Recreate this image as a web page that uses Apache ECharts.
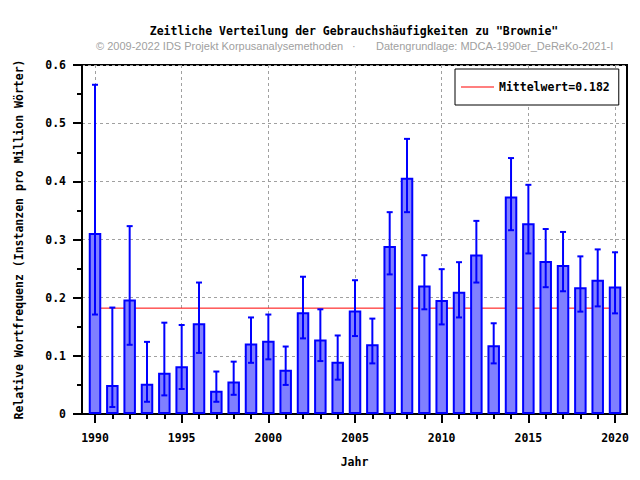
<!DOCTYPE html>
<html>
<head>
<meta charset="utf-8">
<script src="https://cdn.jsdelivr.net/npm/echarts@6/dist/echarts.min.js"></script>
<style>html,body{margin:0;padding:0;background:#fff}#c{width:640px;height:480px}</style>
</head>
<body>
<div id="c"></div>
<script>
const years = [1990,1991,1992,1993,1994,1995,1996,1997,1998,1999,2000,2001,2002,2003,2004,2005,2006,2007,2008,2009,2010,2011,2012,2013,2014,2015,2016,2017,2018,2019,2020];
const values = [0.311,0.050,0.197,0.052,0.071,0.082,0.156,0.040,0.056,0.121,0.126,0.076,0.175,0.128,0.090,0.178,0.120,0.289,0.406,0.221,0.196,0.210,0.274,0.118,0.374,0.328,0.263,0.256,0.218,0.231,0.219];
const errLow = [0.171,0.012,0.119,0.021,0.032,0.043,0.105,0.021,0.033,0.088,0.094,0.050,0.130,0.091,0.059,0.134,0.087,0.240,0.347,0.180,0.154,0.166,0.226,0.087,0.316,0.276,0.218,0.211,0.176,0.185,0.173];
const errHigh = [0.566,0.183,0.323,0.124,0.157,0.153,0.226,0.073,0.090,0.166,0.171,0.116,0.236,0.180,0.135,0.230,0.164,0.347,0.473,0.273,0.249,0.261,0.332,0.156,0.440,0.394,0.318,0.313,0.271,0.283,0.278];
const meanValue = 0.182;
const xMajorTicks = [1990,1995,2000,2005,2010,2015,2020];
const titleText = 'Zeitliche Verteilung der Gebrauchshäufigkeiten zu "Brownie"';
const creditLeft = '© 2009-2022 IDS Projekt Korpusanalysemethoden';
const creditDot = '·';
const creditRight = 'Datengrundlage: MDCA-1990er_DeReKo-2021-I';
const xName = 'Jahr';
const yName = 'Relative Wortfrequenz (Instanzen pro Million Wörter)';
const legendName = 'Mittelwert=' + meanValue;

const MONO = 'DejaVu Sans Mono';
const chart = echarts.init(document.getElementById('c'), null, {renderer: 'svg'});
const xMin = 1989.25, xMax = 2020.69;

chart.setOption({
  animation: false,
  backgroundColor: '#fff',
  title: [{
    text: titleText,
    left: 354, top: 25, textAlign: 'center', padding: 0,
    textStyle: {fontFamily: MONO, fontWeight: 'bold', fontSize: 11.5, color: '#000'}
  }],
  graphic: [
    {type: 'text', x: 96, y: 46, style: {text: creditLeft, fill: '#a0a0a0', font: '11px "Liberation Sans"', textVerticalAlign: 'middle'}},
    {type: 'text', x: 352, y: 46, style: {text: creditDot, fill: '#a0a0a0', font: '11px "Liberation Sans"', textVerticalAlign: 'middle'}},
    {type: 'text', x: 376, y: 46, style: {text: creditRight, fill: '#a0a0a0', font: '11px "Liberation Sans"', textVerticalAlign: 'middle'}}
  ],
  legend: {
    left: 455, top: 69,
    padding: [12, 9, 12, 6],
    backgroundColor: '#fff',
    borderColor: '#000', borderWidth: 1, borderRadius: 0,
    itemWidth: 33, itemHeight: 1,
    data: [{name: legendName, icon: 'rect', itemStyle: {color: '#ff0000'}}],
    textStyle: {fontFamily: MONO, fontWeight: 'bold', fontSize: 11.5, color: '#000'}
  },
  grid: {
    left: 82, right: 13, top: 65, bottom: 66,
    show: true, borderColor: '#000', borderWidth: 2, backgroundColor: 'transparent'
  },
  xAxis: [{
    type: 'value', min: xMin, max: xMax,
    name: xName, nameLocation: 'middle', nameGap: 42,
    nameTextStyle: {fontFamily: MONO, fontWeight: 'bold', fontSize: 11.5, color: '#000'},
    axisLine: {show: true, onZero: false, lineStyle: {color: '#000', width: 2}},
    axisTick: {show: true, inside: false, length: 9, customValues: xMajorTicks, lineStyle: {color: '#000', width: 2}},
    axisLabel: {show: true, margin: 18, customValues: xMajorTicks, fontFamily: MONO, fontWeight: 'bold', fontSize: 11.5, color: '#000', formatter: v => String(v)},
    splitLine: {show: true, lineStyle: {color: '#a0a0a0', width: 1, type: [3, 3]}}
  }, {
    type: 'value', min: xMin, max: xMax, position: 'bottom',
    axisLine: {show: false},
    axisTick: {show: true, inside: false, length: 5, customValues: years, lineStyle: {color: '#000', width: 2}},
    axisLabel: {show: false},
    splitLine: {show: false}
  }],
  yAxis: {
    type: 'value', min: 0, max: 0.6, interval: 0.1,
    name: yName, nameLocation: 'middle', nameGap: 57,
    nameTextStyle: {fontFamily: MONO, fontWeight: 'bold', fontSize: 11.5, color: '#000'},
    axisLine: {show: true, lineStyle: {color: '#000', width: 2}},
    axisTick: {show: true, inside: false, length: 9, lineStyle: {color: '#000', width: 2}},
    minorTick: {show: true, splitNumber: 2, length: 5, lineStyle: {color: '#000', width: 2}},
    axisLabel: {margin: 16, fontFamily: MONO, fontWeight: 'bold', fontSize: 11.5, color: '#000',
      formatter: v => v === 0 ? '0' : v.toFixed(1)},
    splitLine: {show: true, lineStyle: {color: '#a0a0a0', width: 1, type: [3, 3]}}
  },
  series: [{
    name: legendName, type: 'line', xAxisIndex: 0, z: 1,
    symbol: 'none', silent: true, color: '#ff0000',
    lineStyle: {color: '#ff0000', width: 1, opacity: 1}, itemStyle: {color: '#ff0000'},
    data: [[years[0], meanValue], [years[years.length - 1], meanValue]]
  }, {
    name: 'values', type: 'bar', xAxisIndex: 0, z: 2,
    barWidth: 12.5,
    itemStyle: {color: '#8080ff', borderColor: '#0000ff', borderWidth: 2},
    data: years.map((y, i) => [y, values[i]])
  }, {
    name: 'err', type: 'custom', xAxisIndex: 0, z: 3,
    data: years.map((y, i) => [y, errLow[i], errHigh[i]]),
    renderItem: function (params, api) {
      const x = api.value(0);
      const lo = api.coord([x, api.value(1)]);
      const hi = api.coord([x, api.value(2)]);
      const hw = 3;
      const st = {stroke: '#0000ff', lineWidth: 2};
      return {type: 'group', children: [
        {type: 'line', shape: {x1: lo[0], y1: lo[1], x2: hi[0], y2: hi[1]}, style: st},
        {type: 'line', shape: {x1: lo[0] - hw, y1: lo[1], x2: lo[0] + hw, y2: lo[1]}, style: st},
        {type: 'line', shape: {x1: hi[0] - hw, y1: hi[1], x2: hi[0] + hw, y2: hi[1]}, style: st}
      ]};
    }
  }]
});
</script>
</body>
</html>
